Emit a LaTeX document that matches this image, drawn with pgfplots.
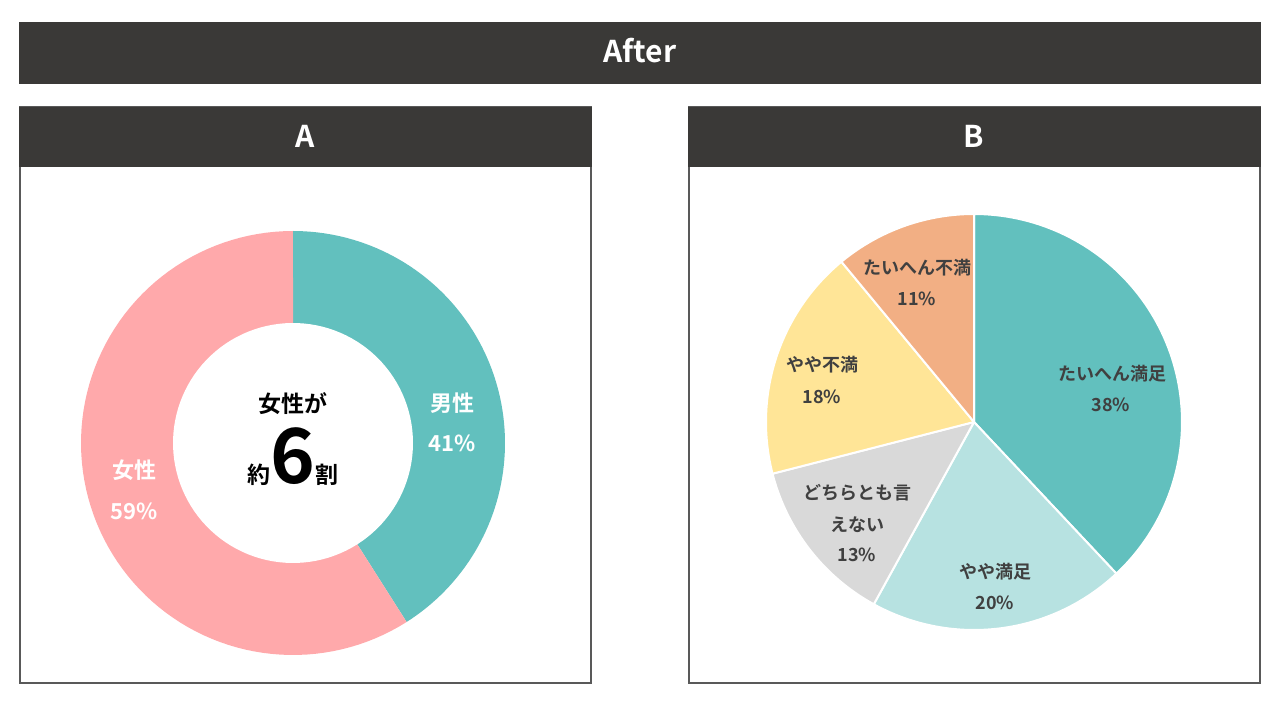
\documentclass[border=0pt]{standalone}
\usepackage{pgfplots}
\pgfplotsset{compat=1.18}
\usepackage{fontspec}
\setmainfont{Noto Sans CJK JP}[BoldFont={Noto Sans CJK JP Bold}]
\definecolor{hdr}{HTML}{3A3937}
\definecolor{frame}{HTML}{595959}
\definecolor{lbl}{HTML}{404040}
\definecolor{cA}{HTML}{62C0BE}
\definecolor{cPink}{HTML}{FFA9AB}
\definecolor{cB}{HTML}{B7E2E1}
\definecolor{cC}{HTML}{D9D9D9}
\definecolor{cD}{HTML}{FFE597}
\definecolor{cE}{HTML}{F2AF84}
% #1 cx, #2 cy, #3 r, #4 cumulative start (%), #5 share (%), #6 colour, #7 border
\newcommand{\wedgeplot}[7]{%
  \pgfmathsetmacro{\sa}{90-3.6*#4}%
  \pgfmathsetmacro{\ea}{90-3.6*(#4+#5)}%
  \edef\tmp{\noexpand\addplot[fill=#6, draw=#7, line width=2pt, line join=round, domain=\sa:\ea, samples=90]
    ({#1+#3*cos(x)},{#2+#3*sin(x)}) -- (#1,#2) -- cycle;}%
  \tmp
}
\newcommand{\fs}[1]{\fontsize{#1}{#1}\selectfont}
\begin{document}
\begin{tikzpicture}
\begin{axis}[
  width=1280pt, height=720pt, scale only axis,
  xmin=0, xmax=1280, ymin=0, ymax=720,
  hide axis, clip=false,
]
\fill[white] (0,0) rectangle (1280,720);
% title bar
\fill[hdr] (19,636) rectangle (1261,698);
\node[text=white, font=\bfseries\fs{30}] at (640,669) {After};
% panel frames
\draw[frame, line width=2pt] (20,37) rectangle (591,613);
\draw[frame, line width=2pt] (689,37) rectangle (1260,613);
\fill[hdr] (19,553) rectangle (592,613);
\fill[hdr] (688,553) rectangle (1261,613);
\node[text=white, font=\bfseries\fs{30}] at (305,584) {A};
\node[text=white, font=\bfseries\fs{30}] at (974,584) {B};

% --- A: donut (男性 41, 女性 59)
\wedgeplot{293}{277}{212}{0}{41}{cA}{none}
\wedgeplot{293}{277}{212}{41}{59}{cPink}{none}
\addplot[fill=white, draw=none, domain=0:360, samples=120] ({293+120*cos(x)},{277+120*sin(x)}) -- cycle;

% --- B: pie
\wedgeplot{974}{298}{208}{0}{38}{cA}{white}
\wedgeplot{974}{298}{208}{38}{20}{cB}{white}
\wedgeplot{974}{298}{208}{58}{13}{cC}{white}
\wedgeplot{974}{298}{208}{71}{18}{cD}{white}
\wedgeplot{974}{298}{208}{89}{11}{cE}{white}

% labels A
\node[text=white, font=\bfseries\fs{22}] at (452,317) {男性};
\node[text=white, font=\bfseries\fs{22}] at (452,277) {41\%};
\node[text=white, font=\bfseries\fs{22}] at (134,250) {女性};
\node[text=white, font=\bfseries\fs{22}] at (134,209) {59\%};
\node[text=black, font=\bfseries\fs{23}] at (293,316) {女性が};
\node[text=black, font=\bfseries\fs{23}, anchor=base, inner sep=0pt] at (293,236) {約{\fs{76}6}割};

% labels B
\node[text=lbl, font=\bfseries\fs{18}] at (1112,346) {たいへん満足};
\node[text=lbl, font=\bfseries\fs{18}] at (1111,315) {38\%};
\node[text=lbl, font=\bfseries\fs{18}] at (995,148) {やや満足};
\node[text=lbl, font=\bfseries\fs{18}] at (995,117) {20\%};
\node[text=lbl, font=\bfseries\fs{18}] at (857,227) {どちらとも言};
\node[text=lbl, font=\bfseries\fs{18}] at (857,195) {えない};
\node[text=lbl, font=\bfseries\fs{18}] at (857,165) {13\%};
\node[text=lbl, font=\bfseries\fs{18}] at (822,355) {やや不満};
\node[text=lbl, font=\bfseries\fs{18}] at (822,323) {18\%};
\node[text=lbl, font=\bfseries\fs{18}] at (917,452) {たいへん不満};
\node[text=lbl, font=\bfseries\fs{18}] at (917,421) {11\%};
\end{axis}
\end{tikzpicture}
\end{document}
